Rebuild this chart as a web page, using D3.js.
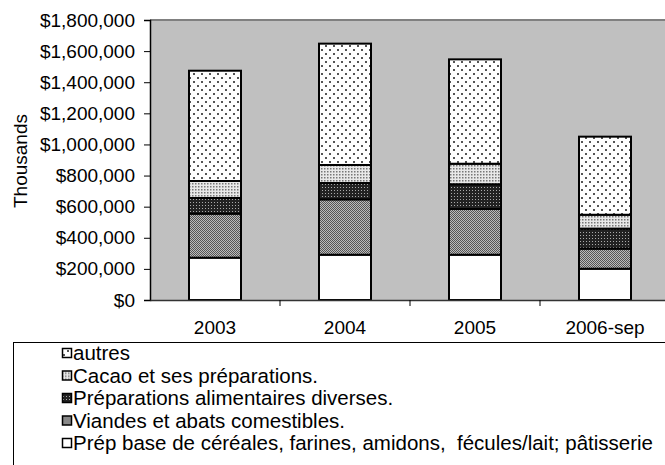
<!DOCTYPE html>
<html>
<head>
<meta charset="utf-8">
<script src="https://cdn.jsdelivr.net/npm/d3@7"></script>
<style>
  body { margin: 0; background: #fff; }
  svg { display: block; }
  text { font-family: "Liberation Sans", Arial, sans-serif; fill: #000; }
</style>
</head>
<body>
<div class="container"></div>
<script>
const width = 665;
const height = 465;

// values in thousands of $
const years = ['2003', '2004', '2005', '2006-sep'];
const cereales = [272000, 291000, 291000, 201000];
const viandes = [283000, 356000, 294000, 129000];
const prepAlim = [101000, 105000, 159000, 129000];
const cacao = [109000, 116000, 132000, 89000];
const autres = [709000, 780000, 671000, 502000];

const seriesNames = [
    'Prép base de céréales, farines, amidons,  fécules/lait; pâtisserie',
    'Viandes et abats comestibles.',
    'Préparations alimentaires diverses.',
    'Cacao et ses préparations.',
    'autres'
];
const yTicks = [0, 200000, 400000, 600000, 800000, 1000000, 1200000, 1400000, 1600000, 1800000];

const margin = { top: 20, left: 150, bottom: 300, right: 670 };

const keys = ['cereales', 'viandes', 'prepAlim', 'cacao', 'autres'];
const table = years.map((y, i) => ({
    year: y,
    cereales: cereales[i],
    viandes: viandes[i],
    prepAlim: prepAlim[i],
    cacao: cacao[i],
    autres: autres[i]
}));

const stacked = d3.stack().keys(keys)(table);

const x = d3.scaleBand()
    .domain(years)
    .range([margin.left, margin.right])
    .paddingInner(0.6)
    .paddingOuter(0.3);

const xb = d3.scaleBand().domain(years).range([margin.left, margin.right]);

const y = d3.scaleLinear()
    .domain([0, 1800000])
    .range([margin.bottom, margin.top]);

const svg = d3.select('.container')
    .append('svg')
    .attr('width', width)
    .attr('height', height);

// fill patterns
const defs = svg.append('defs');
function pattern(id, size, bg, dots, dotColor, r) {
    const p = defs.append('pattern')
        .attr('id', id)
        .attr('patternUnits', 'userSpaceOnUse')
        .attr('width', size)
        .attr('height', size);
    p.append('rect').attr('width', size).attr('height', size).attr('fill', bg);
    dots.forEach(d => {
        p.append('rect')
            .attr('x', d[0]).attr('y', d[1])
            .attr('width', r).attr('height', r)
            .attr('fill', dotColor);
    });
}
pattern('p-autres', 8, '#fff', [[1, 1], [5, 5]], '#555', 2);
pattern('p-cacao', 3, '#e8e8e8', [[0, 0]], '#777', 1.5);
pattern('p-prep', 3, '#222', [[1, 1]], '#aaa', 1);
pattern('p-viandes', 2, '#bbb', [[0, 0], [1, 1]], '#555', 1);

const fills = {
    cereales: '#fff',
    viandes: 'url(#p-viandes)',
    prepAlim: 'url(#p-prep)',
    cacao: 'url(#p-cacao)',
    autres: 'url(#p-autres)'
};

// plot area
svg.append('rect')
    .attr('x', margin.left)
    .attr('y', margin.top)
    .attr('width', margin.right - margin.left)
    .attr('height', margin.bottom - margin.top)
    .attr('fill', '#c0c0c0');

svg.append('line')
    .attr('x1', margin.left).attr('x2', margin.right)
    .attr('y1', margin.top).attr('y2', margin.top)
    .attr('stroke', '#808080')
    .attr('stroke-width', 2);

// bars
svg.append('g')
    .selectAll('g')
    .data(stacked)
    .enter()
    .append('g')
    .attr('fill', d => fills[d.key])
    .selectAll('rect')
    .data(d => d)
    .enter()
    .append('rect')
    .attr('x', d => x(d.data.year))
    .attr('y', d => y(d[1]))
    .attr('width', x.bandwidth())
    .attr('height', d => y(d[0]) - y(d[1]))
    .attr('stroke', '#000')
    .attr('stroke-width', 2);

// axes
const yAxis = d3.axisLeft(y)
    .tickValues(yTicks)
    .tickSize(6)
    .tickPadding(9)
    .tickFormat(d => '$' + d3.format(',')(d));

svg.append('g')
    .attr('transform', `translate(${margin.left},0)`)
    .call(yAxis)
    .call(g => g.select('.domain').attr('stroke-width', 1.5))
    .call(g => g.selectAll('text').attr('font-size', 19));

const xAxis = d3.axisBottom(xb).tickSize(0).tickSizeOuter(0);
const xg = svg.append('g')
    .attr('transform', `translate(0,${margin.bottom})`)
    .call(xAxis);
xg.select('.domain').attr('stroke-width', 1.5).attr('stroke', '#333');
xg.selectAll('text').attr('font-size', 19).attr('y', 34).attr('dy', 0);

xg.selectAll('.sep')
    .data(years.slice(1))
    .enter()
    .append('line')
    .attr('x1', d => xb(d)).attr('x2', d => xb(d))
    .attr('y1', 0).attr('y2', 6)
    .attr('stroke', '#000');

svg.append('text')
    .attr('transform', 'translate(27,161) rotate(-90)')
    .attr('text-anchor', 'middle')
    .attr('font-size', 19)
    .text('Thousands');

// legend
svg.append('rect')
    .attr('x', 13.5).attr('y', 342.5)
    .attr('width', 700).attr('height', 200)
    .attr('fill', '#fff')
    .attr('stroke', '#000');

const legendKeys = keys.slice().reverse();
const legendLabels = seriesNames.slice().reverse();
const lg = svg.append('g')
    .selectAll('g')
    .data(legendKeys)
    .enter()
    .append('g')
    .attr('transform', (d, i) => `translate(62,${353 + i * 22.5})`);

lg.append('rect')
    .attr('x', 0.5).attr('y', -4.5)
    .attr('width', 9).attr('height', 9)
    .attr('fill', d => fills[d])
    .attr('stroke', '#000')
    .attr('stroke-width', 1.5);

lg.append('text')
    .attr('x', 11)
    .attr('y', 7)
    .attr('font-size', 20.5)
    .style('white-space', 'pre')
    .text((d, i) => legendLabels[i]);
</script>
</body>
</html>
